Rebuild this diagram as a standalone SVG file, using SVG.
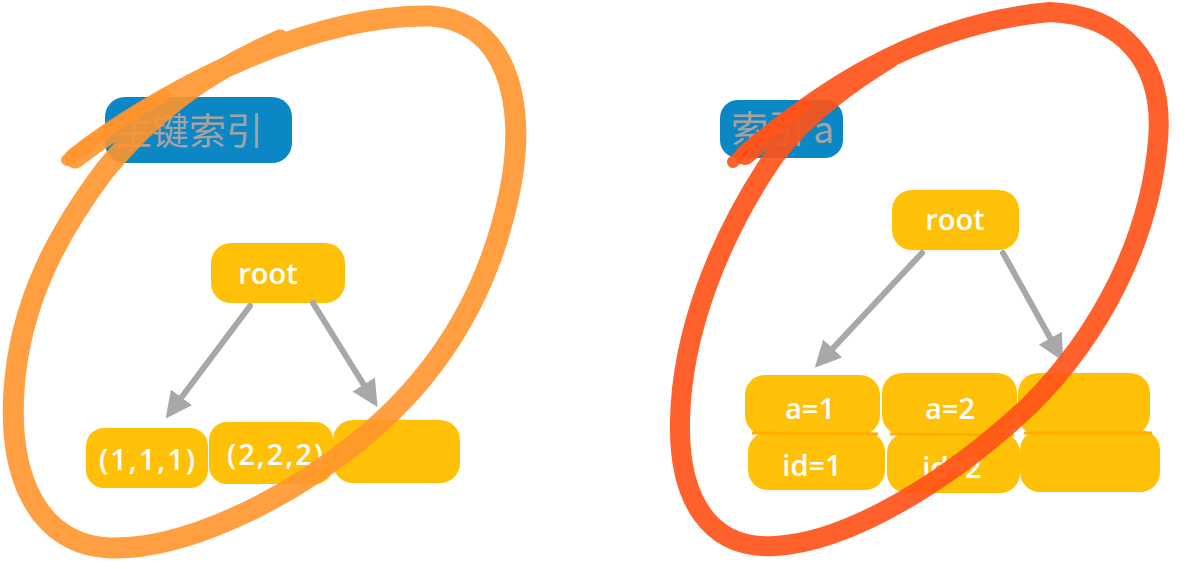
<svg xmlns="http://www.w3.org/2000/svg" width="1196" height="569" viewBox="0 0 1196 569">
<defs>
<style>
.node{fill:#ffc107}
.lbl{fill:#0a87c4}
.lt{font-family:"Noto Sans CJK SC","Noto Sans",sans-serif;font-size:37px;fill:#a3a3a3}
.wt{font-family:"Open Sans","Noto Sans",sans-serif;font-size:29px;font-weight:600;fill:#ffffff;text-anchor:middle}
.arr{stroke:#a8a8a8;stroke-width:6;stroke-linecap:round;fill:none}
.sep{stroke:#ffad00;stroke-width:3;fill:none}
</style>
<marker id="ah" viewBox="0 0 10 10" refX="6" refY="5" markerWidth="4.4" markerHeight="4.4" orient="auto" markerUnits="strokeWidth">
<path d="M0,0 L10,5 L0,10 Z" fill="#a8a8a8"/>
</marker>
</defs>
<rect width="1196" height="569" fill="#ffffff"/>

<g id="left-label"><rect class="lbl" x="105" y="97" width="187" height="66" rx="20"/><text class="lt" x="115" y="145">主键索引</text></g>
<g id="left-root"><rect class="node" x="211" y="243" width="134" height="60" rx="20"/><text class="wt" x="268" y="284">root</text></g>
<g id="left-leaf1"><rect class="node" x="86" y="428" width="122" height="60" rx="18"/><text class="wt" x="148" y="470" letter-spacing="2">(1,1,1)</text></g>
<g id="left-leaf2"><rect class="node" x="209" y="422" width="124" height="62" rx="18"/><text class="wt" x="276" y="465" letter-spacing="2">(2,2,2)</text></g>
<g id="left-leaf3"><rect class="node" x="333" y="420" width="127" height="63" rx="20"/></g>

<g id="right-label"><rect class="lbl" x="720" y="100" width="123" height="58" rx="18"/><text class="lt" x="731" y="143">索引 a</text></g>
<g id="right-root"><rect class="node" x="892" y="190" width="127" height="60" rx="20"/><text class="wt" x="955" y="230">root</text></g>
<g id="right-a1"><rect class="node" x="745" y="375" width="135" height="60" rx="20"/><text class="wt" x="810" y="419">a=1</text></g>
<g id="right-a2"><rect class="node" x="882" y="373" width="135" height="62" rx="20"/><text class="wt" x="950" y="419">a=2</text></g>
<g id="right-a3"><rect class="node" x="1018" y="373" width="132" height="62" rx="20"/></g>
<g id="right-id1"><rect class="node" x="748" y="432" width="137" height="58" rx="20"/><text class="wt" x="812" y="476">id=1</text></g>
<g id="right-id2"><rect class="node" x="887" y="433" width="133" height="60" rx="20"/><text class="wt" x="952" y="478">id=2</text></g>
<g id="right-id3"><rect class="node" x="1020" y="430" width="140" height="62" rx="20"/></g>
<g id="seps"><path class="sep" d="M752 433 L878 434 M890 434 L1014 435 M1024 433 L1152 433"/></g>

<g id="connectors">
<line class="arr" x1="250" y1="306" x2="172" y2="410" marker-end="url(#ah)"/>
<line class="arr" x1="313" y1="303" x2="372" y2="398" marker-end="url(#ah)"/>
<line class="arr" x1="922" y1="253" x2="822" y2="360" marker-end="url(#ah)"/>
<line class="arr" x1="1003" y1="253" x2="1058" y2="352" marker-end="url(#ah)"/>
</g>

<g id="orange-loop" fill="none" stroke="#ff952c" stroke-opacity="0.9" stroke-linecap="round">
<path stroke-width="21" d="M75 158 C 150 100, 300 14, 430 16 C 505 20, 528 100, 510 190 C 490 290, 440 375, 360 440 C 280 505, 180 550, 110 548 C 40 545, 8 480, 14 390 C 20 300, 60 230, 105 170 C 150 115, 200 75, 280 40"/>
<path stroke-width="12" d="M67 160 C 100 135, 130 115, 165 95"/>
</g>
<g id="red-loop" fill="none" stroke="#ff541a" stroke-opacity="0.92" stroke-linecap="round">
<path stroke-width="20" d="M745 155 C 810 100, 910 25, 1050 12 C 1120 15, 1165 60, 1158 140 C 1150 240, 1100 335, 1030 405 C 950 480, 850 542, 775 546 C 710 550, 678 500, 680 420 C 682 330, 720 240, 765 170 C 790 130, 830 95, 890 58"/>
<path stroke-width="12" d="M733 162 C 755 142, 780 122, 805 105"/>
</g>
</svg>
